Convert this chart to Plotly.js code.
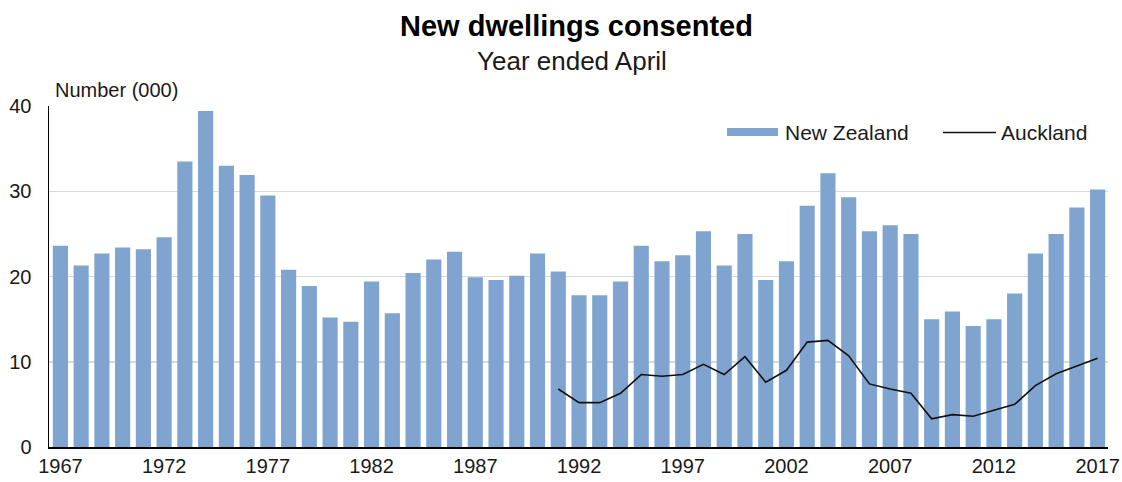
<!DOCTYPE html>
<html>
<head>
<meta charset="utf-8">
<script src="https://cdn.plot.ly/plotly-3.0.1.min.js"></script>
<style>html,body{margin:0;padding:0;background:#fff;}#chart{width:1122px;height:482px;}</style>
</head>
<body>
<div id="chart"></div>
<script>
// Data
var years = [];
for (var yr = 1967; yr <= 2017; yr++) years.push(yr);
var newZealand = [23.6, 21.3, 22.7, 23.4, 23.2, 24.6, 33.5, 39.4, 33.0, 31.9,
                  29.5, 20.8, 18.9, 15.2, 14.7, 19.4, 15.7, 20.4, 22.0, 22.9,
                  19.9, 19.6, 20.1, 22.7, 20.6, 17.8, 17.8, 19.4, 23.6, 21.8,
                  22.5, 25.3, 21.3, 25.0, 19.6, 21.8, 28.3, 32.1, 29.3, 25.3,
                  26.0, 25.0, 15.0, 15.9, 14.2, 15.0, 18.0, 22.7, 25.0, 28.1, 30.2];
var aucklandYears = [];
for (var ay = 1991; ay <= 2017; ay++) aucklandYears.push(ay);
var auckland = [6.8, 5.2, 5.2, 6.3, 8.5, 8.3, 8.5, 9.7, 8.5, 10.6,
                7.6, 9.0, 12.3, 12.5, 10.7, 7.4, 6.8, 6.3, 3.3, 3.8,
                3.6, 4.3, 5.0, 7.2, 8.6, 9.5, 10.4];
var xTickVals = [1967, 1972, 1977, 1982, 1987, 1992, 1997, 2002, 2007, 2012, 2017];
var xTickText = ['1967', '1972', '1977', '1982', '1987', '1992', '1997', '2002', '2007', '2012', '2017'];
var yTickVals = [0, 10, 20, 30, 40];
var yTickText = ['0', '10', '20', '30', '40'];

var FONT = '"Liberation Sans", Arial, sans-serif';
var BAR = '#7EA4CF';
var TXT = '#1a1a1a';

var traces = [
  {type: 'bar', x: years, y: newZealand, name: 'New Zealand',
   marker: {color: BAR, line: {width: 0}}, showlegend: false, hoverinfo: 'x+y'},
  {type: 'scatter', mode: 'lines', x: aucklandYears, y: auckland, name: 'Auckland',
   line: {color: '#111111', width: 1.6}, showlegend: false}
];

// Pixel helpers for plot-area (margins below)
var L = 49, R = 14, T = 106, B = 35.3, W = 1122, H = 482;
function px(x) { return (x - L) / (W - L - R); }
function py(y) { return (H - B - y) / (H - T - B); }

var layout = {
  width: W, height: H,
  margin: {l: L, r: R, t: T, b: B, pad: 0},
  paper_bgcolor: '#fff', plot_bgcolor: '#fff',
  bargap: 0.27,
  font: {family: FONT, color: TXT, size: 20},
  xaxis: {
    range: [1966.45, 2017.5], tickvals: xTickVals, ticktext: xTickText,
    showgrid: false, zeroline: false, showline: true, linecolor: '#000', linewidth: 2,
    ticks: '', tickfont: {family: FONT, size: 20, color: TXT}, fixedrange: true
  },
  yaxis: {
    range: [0, 40], tickvals: yTickVals, ticktext: yTickText,
    showgrid: true, gridcolor: '#D9D9D9', gridwidth: 1.5, zeroline: false,
    showline: true, linecolor: '#000', linewidth: 1.5, ticks: '',
    ticklabelstandoff: 12,
    tickfont: {family: FONT, size: 20, color: TXT}, fixedrange: true
  },
  shapes: [
    {type: 'rect', xref: 'paper', yref: 'paper', x0: px(727), x1: px(778), y0: py(136), y1: py(128),
     fillcolor: BAR, line: {width: 0}},
    {type: 'line', xref: 'paper', yref: 'paper', x0: px(943), x1: px(996), y0: py(132.5), y1: py(132.5),
     line: {color: '#111111', width: 1.6}}
  ],
  annotations: [
    {text: '<b>New dwellings consented</b>', xref: 'paper', yref: 'paper', x: px(576), y: py(26),
     xanchor: 'center', yanchor: 'middle', showarrow: false, font: {family: FONT, size: 29, color: '#000'}},
    {text: 'Year ended April', xref: 'paper', yref: 'paper', x: px(572), y: py(61),
     xanchor: 'center', yanchor: 'middle', showarrow: false, font: {family: FONT, size: 26, color: TXT}},
    {text: 'Number (000)', xref: 'paper', yref: 'paper', x: px(53), y: py(90),
     xanchor: 'left', yanchor: 'middle', showarrow: false, font: {family: FONT, size: 20, color: TXT}},
    {text: 'New Zealand', xref: 'paper', yref: 'paper', x: px(783), y: py(132),
     xanchor: 'left', yanchor: 'middle', showarrow: false, font: {family: FONT, size: 21, color: TXT}},
    {text: 'Auckland', xref: 'paper', yref: 'paper', x: px(999), y: py(132),
     xanchor: 'left', yanchor: 'middle', showarrow: false, font: {family: FONT, size: 21, color: TXT}}
  ],
  showlegend: false
};

Plotly.newPlot('chart', traces, layout, {displayModeBar: false, staticPlot: true});
</script>
</body>
</html>
